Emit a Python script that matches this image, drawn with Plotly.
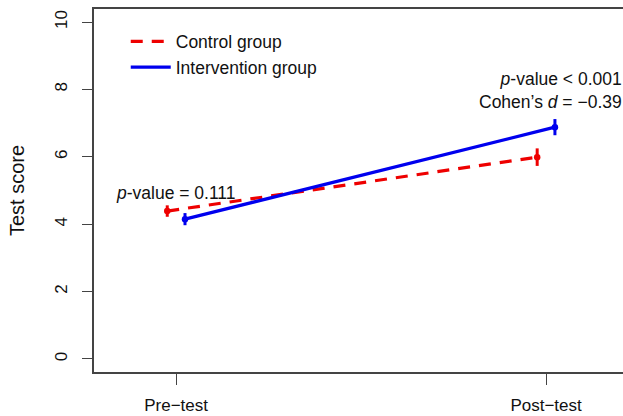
import plotly.graph_objects as go

groups = ["Control group", "Intervention group"]
time_labels = ["Pre−test", "Post−test"]
time_pos = [1, 2]
control_means = [4.39, 5.99]
control_err = [0.17, 0.26]
intervention_means = [4.15, 6.88]
intervention_err = [0.18, 0.24]
offsets = [-0.024, 0.024]
colors = ["#ee0000", "#0000ee"]
y_ticks = [0, 2, 4, 6, 8, 10]

FONT = "Liberation Sans, Arial, Helvetica, sans-serif"

fig = go.Figure()
series = [(control_means, control_err), (intervention_means, intervention_err)]
for i, (name, (m, e)) in enumerate(zip(groups, series)):
    xs = [t + offsets[i] for t in time_pos]
    fig.add_trace(go.Scatter(
        x=xs, y=m, mode="lines", name=name,
        line=dict(color=colors[i], width=3.2,
                  dash="12px,9px" if i == 0 else "solid"),
    ))
    fig.add_trace(go.Scatter(
        x=xs, y=m, mode="markers", showlegend=False,
        marker=dict(color=colors[i], size=6.5),
        error_y=dict(type="data", array=e, color=colors[i], thickness=3, width=0),
    ))

fig.add_annotation(x=1.0, y=4.93, xref="x", yref="y",
                   text="<i>p</i>-value = 0.111", showarrow=False,
                   font=dict(family=FONT, size=17.5, color="#111"))
fig.add_annotation(x=2.012, y=7.98, xref="x", yref="y",
                   text="<i>p</i>-value < 0.001<br>Cohen’s <i>d</i> = −0.39",
                   showarrow=False, align="right",
                   font=dict(family=FONT, size=17.5, color="#111"))

fig.update_layout(
    width=623, height=416,
    margin=dict(l=94, r=0, t=9, b=44),
    plot_bgcolor="white", paper_bgcolor="white",
    font=dict(family=FONT, size=15, color="#111"),
    legend=dict(x=0.06, y=0.96, xanchor="left", yanchor="top",
                bgcolor="rgba(0,0,0,0)", font=dict(size=17.5),
                itemwidth=40, tracegroupgap=0),
    xaxis=dict(range=[0.778, 2.208], tickvals=time_pos, ticktext=time_labels,
               showgrid=False, zeroline=False, showline=True, mirror=True,
               linecolor="#444", linewidth=1.5, ticks="outside", ticklen=11,
               tickcolor="#444", tickwidth=1.2, tickfont=dict(size=17),
               ticklabelstandoff=6),
    yaxis=dict(range=[-0.386, 10.386], tickvals=y_ticks,
               showgrid=False, zeroline=False, showline=True,
               linecolor="#444", linewidth=1.5, ticks="outside", ticklen=10,
               tickcolor="#444", tickwidth=1.2, tickangle=-90,
               tickfont=dict(size=17), ticklabelstandoff=8,
               title=dict(text="Test score", font=dict(size=20), standoff=22)),
)

fig.write_html("out.html")
